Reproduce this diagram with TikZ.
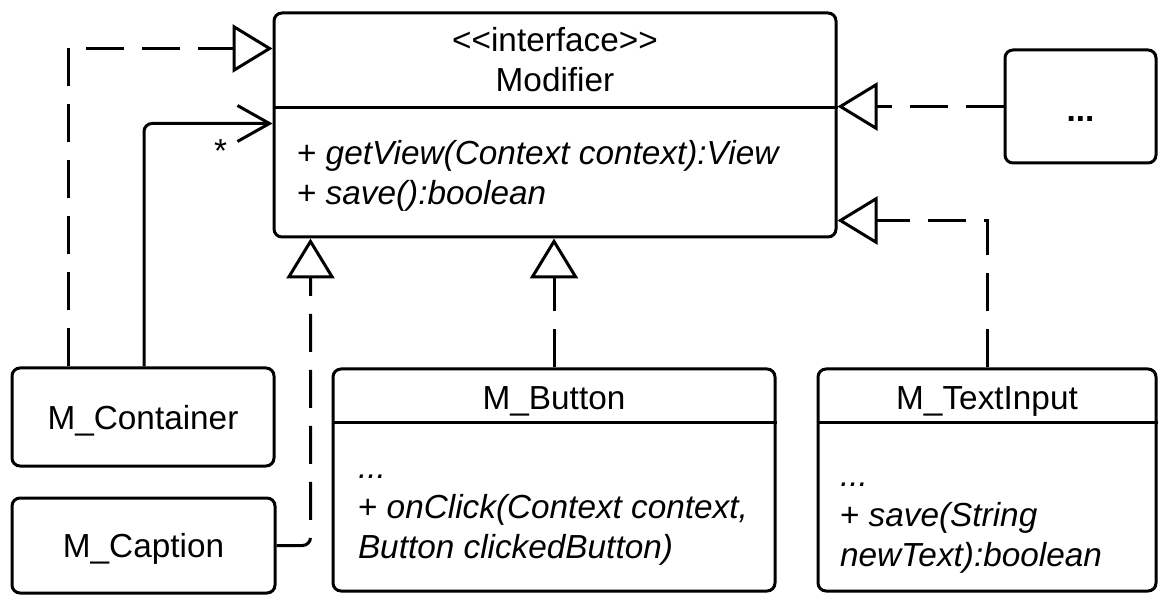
\documentclass[tikz,border=0pt]{standalone}
\usepackage{fontspec}
\setmainfont{Liberation Sans}
\usetikzlibrary{arrows.meta,calc}

\begin{document}
\begin{tikzpicture}[x=0.75pt, y=-0.75pt, line width=2.25pt,
  font=\fontsize{25pt}{30pt}\selectfont,
  classbox/.style={draw, rounded corners=6pt, inner sep=0pt},
  txt/.style={inner sep=0pt, align=left},
  realize/.style={dash pattern=on 28.5pt off 13.5pt, line join=miter,
    -{Triangle[open, length=30pt, width=36pt]}},
  assoc/.style={rounded corners=6pt, -{Straight Barb[length=24pt, width=27pt]}}]

  \useasboundingbox (0,0) rectangle (1169,605);

  % the interface
  \node[classbox, minimum width=421.5pt, minimum height=168pt] (mod) at (555,125) {};
  \draw ($(mod.north west)+(0,96)$) -- ($(mod.north east)+(0,96)$);
  \node[txt, align=center, anchor=north] (modname) at ($(mod.north)+(0,11)$)
    {\strut<{}<interface>{}>\\Modifier};
  \node[txt, anchor=north west] (modops) at ($(mod.north west)+(23,124)$)
    {\strut+ \textit{getView(Context context):View}\\+ \textit{save():boolean}};

  % the classes
  \node[classbox, minimum width=113.25pt, minimum height=84.75pt,
    text height=22pt, text depth=0pt] (more) at (1080.5,106.5) {\textbf{...}};
  \node[classbox, minimum width=196.5pt, minimum height=73.5pt, text depth=0pt] (cont) at (143,417) {M\_Container};
  \node[classbox, minimum width=197.25pt, minimum height=71.25pt, text depth=0pt] (capt) at (143.5,545.5) {M\_Caption};

  \node[classbox, minimum width=331.5pt, minimum height=166.5pt] (btn) at (554,480) {};
  \draw ($(btn.north west)+(0,55)$) -- ($(btn.north east)+(0,55)$);
  \node[txt, anchor=base] (btnname) at ($(btn.north)+(0,42)$) {M\_Button};
  \node[txt, anchor=north west] (btnops) at ($(btn.north west)+(25,81)$)
    {\strut\textit{...}\\+ \textit{onClick(Context context,}\\\textit{Button clickedButton)}};

  \node[classbox, minimum width=253.5pt, minimum height=166.5pt] (tin) at (987,480) {};
  \draw ($(tin.north west)+(0,55)$) -- ($(tin.north east)+(0,55)$);
  \node[txt, anchor=base] (tinname) at ($(tin.north)+(0,42)$) {M\_TextInput};
  \node[txt, anchor=north west] (tinops) at ($(tin.north west)+(22,89)$)
    {\strut\textit{...}\\+ \textit{save(String}\\\textit{newText):boolean}};

  % connectors
  \draw[realize] ($(cont.north)+(-75,0)$) |- ($(mod.north west)+(0,37)$);
  \draw[assoc] ($(cont.north)+(1,0)$) |- ($(mod.north west)+(0,112)$);
  \node (mult) at ($(mod.north west)+(-52,140)$) {*};
  \draw[realize, rounded corners=6pt] (capt.east) -| ($(mod.south west)+(38,0)$);
  \draw[realize] (btn.north) -- (btn.north |- mod.south);
  \draw[realize] (more.west) -- (more.west -| mod.east);
  \draw[realize] (tin.north) |- ($(mod.south east)+(0,-18)$);

\end{tikzpicture}
\end{document}
